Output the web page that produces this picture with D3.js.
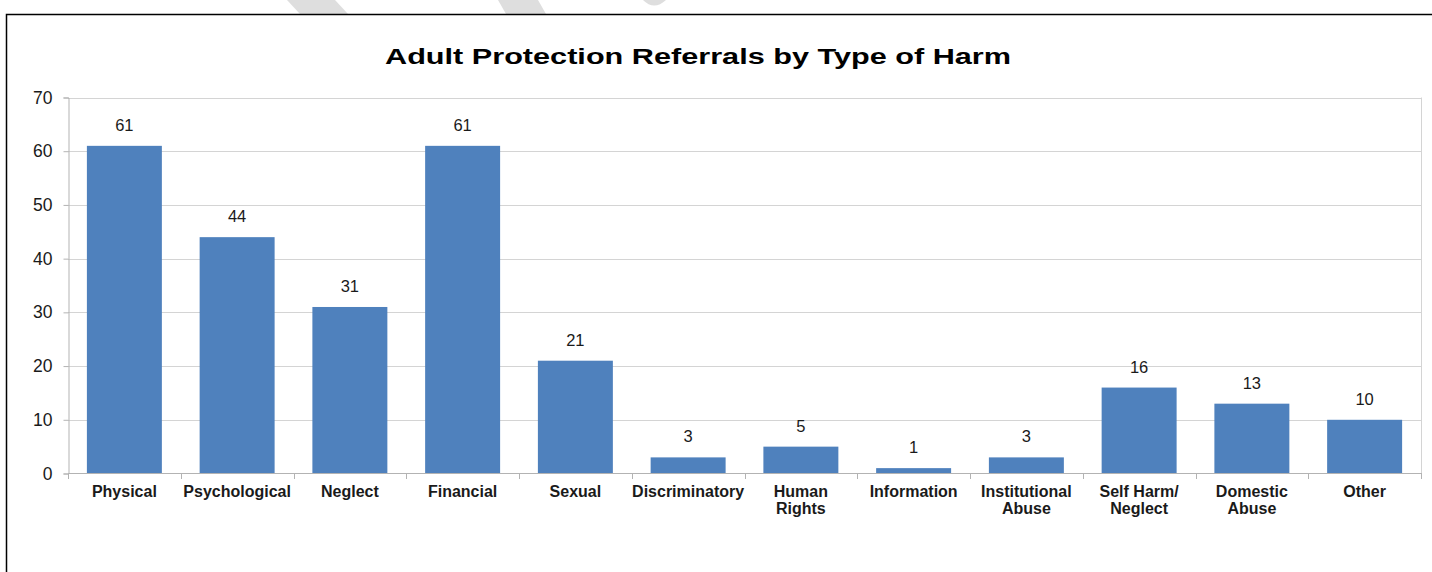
<!DOCTYPE html>
<html>
<head>
<meta charset="utf-8">
<script src="https://cdn.jsdelivr.net/npm/d3@7"></script>
<style>
  html, body { margin: 0; padding: 0; background: #fff; }
  svg { display: block; font-family: "Liberation Sans", Arial, sans-serif; }
</style>
</head>
<body>
<svg id="chart" width="1432" height="572"></svg>
<script>
// Referral counts by type of harm
const categories = [
  "Physical", "Psychological", "Neglect", "Financial", "Sexual",
  "Discriminatory", "Human\nRights", "Information", "Institutional\nAbuse",
  "Self Harm/\nNeglect", "Domestic\nAbuse", "Other"
];
const referrals = [61, 44, 31, 61, 21, 3, 5, 1, 3, 16, 13, 10];
const yTicks = [0, 10, 20, 30, 40, 50, 60, 70];
const chartTitle = "Adult Protection Referrals by Type of Harm";

const svg = d3.select("#chart");

// light grey strokes along the top edge of the page
const strokes = svg.append("g").attr("fill", "#dedede");
strokes.append("path").attr("d", "M287,0 L335,0 L348,14 L300,14 Z");
strokes.append("path").attr("d", "M498,0 L538,0 L546,14 L506,14 Z");
strokes.append("path").attr("d", "M643,0 Q654,11 666,0 Z");

// outer frame
svg.append("path")
  .attr("d", "M6.5,572 L6.5,14.5 L1432,14.5")
  .attr("fill", "none").attr("stroke", "#000").attr("stroke-width", 1.5);

// title
svg.append("text")
  .attr("x", 385).attr("y", 64)
  .attr("textLength", 626).attr("lengthAdjust", "spacingAndGlyphs")
  .attr("font-size", 22).attr("font-weight", "bold").attr("fill", "#000")
  .text(chartTitle);

const plot = { left: 68, right: 1421, top: 97.5, bottom: 473.5 };

const y = d3.scaleLinear().domain([0, 70]).range([plot.bottom, plot.top]);
const x = d3.scaleBand().domain(categories)
  .range([plot.left, plot.right]).paddingInner(0.335).paddingOuter(0.1675);

// horizontal gridlines
svg.append("g").selectAll("line").data(yTicks.filter(d => d > 0)).join("line")
  .attr("x1", plot.left).attr("x2", plot.right)
  .attr("y1", d => Math.round(y(d)) + 0.5).attr("y2", d => Math.round(y(d)) + 0.5)
  .attr("stroke", "#d4d4d4").attr("stroke-width", 1);

// right edge of plot area
svg.append("line")
  .attr("x1", plot.right + 0.5).attr("x2", plot.right + 0.5)
  .attr("y1", plot.top).attr("y2", plot.bottom)
  .attr("stroke", "#d4d4d4");

// bars
svg.append("g").selectAll("rect").data(referrals).join("rect")
  .attr("x", (d, i) => x(categories[i]))
  .attr("width", x.bandwidth())
  .attr("y", d => y(d))
  .attr("height", d => y(0) - y(d))
  .attr("fill", "#4f81bd");

// value labels
svg.append("g").selectAll("text").data(referrals).join("text")
  .attr("x", (d, i) => x(categories[i]) + x.bandwidth() / 2)
  .attr("y", d => y(d) - 15)
  .attr("text-anchor", "middle")
  .attr("font-size", 16.5).attr("fill", "#1a1a1a")
  .text(d => d);

// y axis
const yAxis = svg.append("g")
  .attr("transform", `translate(${plot.left + 0.5},0)`)
  .call(d3.axisLeft(y).tickValues(yTicks).tickSize(5).tickPadding(11));
yAxis.select(".domain").attr("stroke", "#b3b3b3");
yAxis.selectAll(".tick line").attr("stroke", "#b3b3b3");
yAxis.selectAll(".tick text")
  .attr("font-size", 17.5).attr("fill", "#1a1a1a")
  .attr("font-family", "'Liberation Sans', Arial, sans-serif");

// x axis line and boundary ticks
const xg = svg.append("g");
xg.append("line")
  .attr("x1", plot.left).attr("x2", plot.right + 1)
  .attr("y1", plot.bottom).attr("y2", plot.bottom)
  .attr("stroke", "#b3b3b3");
const step = x.step();
const bounds = d3.range(categories.length + 1).map(i => plot.left + i * step);
xg.selectAll("line.tk").data(bounds).join("line").attr("class", "tk")
  .attr("x1", d => Math.round(d) + 0.5).attr("x2", d => Math.round(d) + 0.5)
  .attr("y1", plot.bottom).attr("y2", plot.bottom + 5.5)
  .attr("stroke", "#b3b3b3");

// category labels
const cat = svg.append("g").selectAll("text").data(categories).join("text")
  .attr("x", d => x(d) + x.bandwidth() / 2)
  .attr("y", 497)
  .attr("text-anchor", "middle")
  .attr("font-size", 16).attr("font-weight", "bold").attr("fill", "#1a1a1a");
cat.each(function (d) {
  const lines = d.split("\n");
  const t = d3.select(this);
  lines.forEach((ln, i) => {
    t.append("tspan")
      .attr("x", x(d) + x.bandwidth() / 2)
      .attr("dy", i === 0 ? 0 : 17)
      .text(ln);
  });
});
</script>
</body>
</html>
